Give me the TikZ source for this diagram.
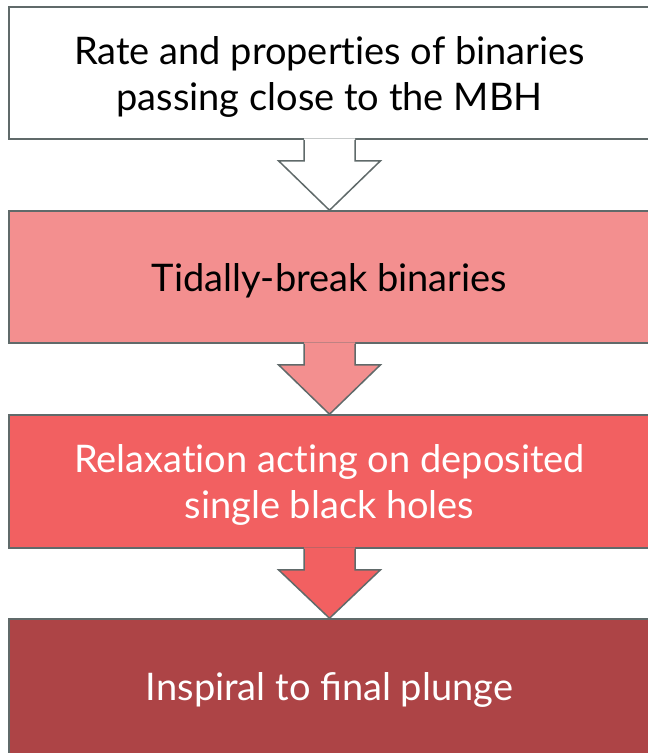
\documentclass[tikz,border=0pt]{standalone}
\usepackage{fontspec}
\setmainfont{Lato}
\usetikzlibrary{calc}
\definecolor{edge}{RGB}{96,106,106}
\definecolor{cA}{RGB}{255,255,255}
\definecolor{cB}{RGB}{243,143,143}
\definecolor{cC}{RGB}{242,96,97}
\definecolor{cD}{RGB}{173,68,70}
\newcommand{\tinolig}{t\kern0pt i}
\tikzset{
  stage/.style={draw=edge, line width=1.5pt, minimum width=641pt, inner sep=0pt},
  stagetext/.style={align=center, inner sep=0pt, font=\fontsize{38}{46}\selectfont},
  arrowfill/.style={line width=1.5pt, draw=edge, line join=miter}
}
\begin{document}
\begin{tikzpicture}[x=1pt,y=-1pt]
\useasboundingbox (0,0) rectangle (648,753);
\clip (0,0) rectangle (648,753);
\fill[white] (0,0) rectangle (648,753);
\node[stage, fill=cA, minimum height=132pt] (b1) at (329.5,73) {};
\node[stage, fill=cB, minimum height=132pt] (b2) at (329.5,277) {};
\node[stage, fill=cC, minimum height=133pt] (b3) at (329.5,481.5) {};
\node[stage, fill=cD, minimum height=140pt] (b4) at (329.5,689) {};
\node[stagetext, text=black] (t1) at ($(b1.center)+(0,4)$) {Rate and proper\tinolig es of binaries\\passing close to the MBH};
\node[stagetext, text=black] (t2) at ($(b2.center)+(0,4)$) {Tidally-break binaries};
\node[stagetext, text=white] (t3) at ($(b3.center)+(0,3)$) {Relaxa\tinolig on ac\tinolig ng on deposited\\single black holes};
\node[stagetext, text=white] (t4) at (329.5,690) {Inspiral to final plunge};
% arrows
\foreach \a/\b/\c in {b1/b2/cA, b2/b3/cB, b3/b4/cC}{
  \coordinate (s) at (\a.south);
  \coordinate (e) at (\b.north);
  \fill[\c] ($(s)+(-25.5,-1.5)$) -- ($(s)+(-25.5,21)$) -- ($(s)+(-51,21)$) -- (e) -- ($(s)+(51,21)$) -- ($(s)+(25.5,21)$) -- ($(s)+(25.5,-1.5)$) -- cycle;
  \draw[arrowfill] ($(s)+(-25.5,0)$) -- ($(s)+(-25.5,21)$) -- ($(s)+(-51,21)$) -- (e) -- ($(s)+(51,21)$) -- ($(s)+(25.5,21)$) -- ($(s)+(25.5,0)$);
}
\end{tikzpicture}
\end{document}
